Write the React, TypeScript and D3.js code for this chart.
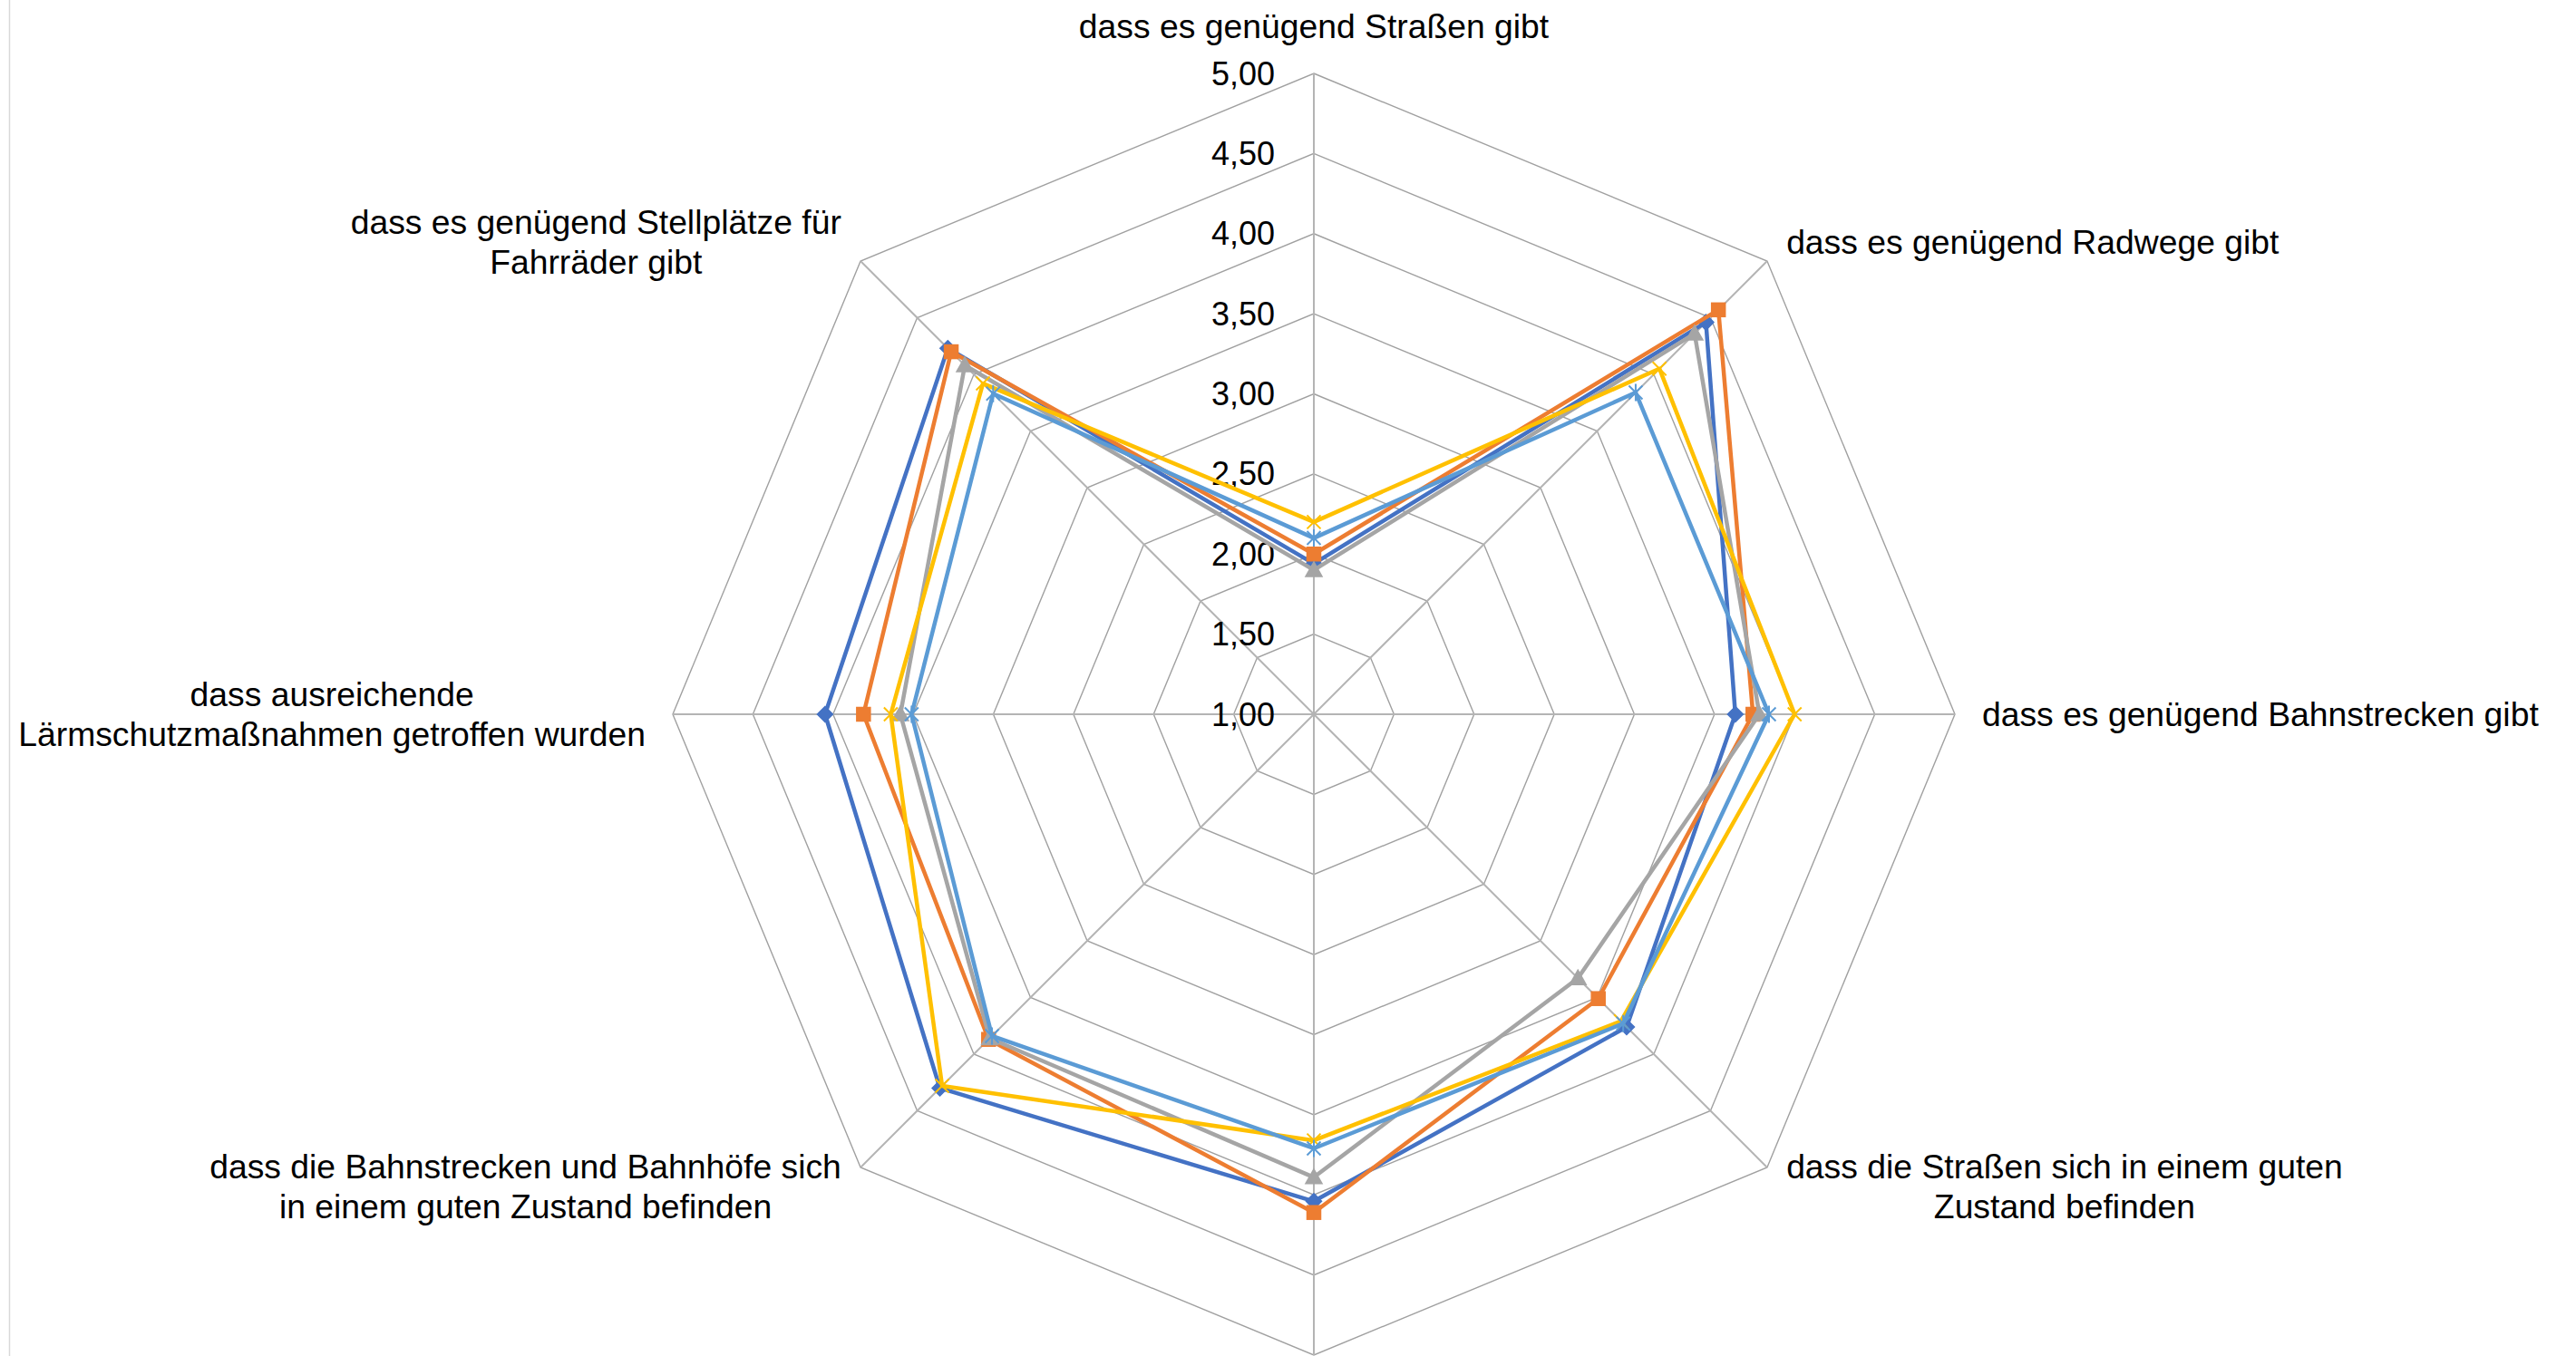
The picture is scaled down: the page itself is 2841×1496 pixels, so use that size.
import React, { useMemo } from 'react';
import * as d3 from 'd3';

// ---- data ----
const categories = [
  'dass es genügend Straßen gibt',
  'dass es genügend Radwege gibt',
  'dass es genügend Bahnstrecken gibt',
  'dass die Straßen sich in einem guten Zustand befinden',
  '',
  'dass die Bahnstrecken und Bahnhöfe sich in einem guten Zustand befinden',
  'dass ausreichende Lärmschutzmaßnahmen getroffen wurden',
  'dass es genügend Stellplätze für Fahrräder gibt',
];
const categoryLines: string[][] = [
  ['dass es genügend Straßen gibt'],
  ['dass es genügend Radwege gibt'],
  ['dass es genügend Bahnstrecken gibt'],
  ['dass die Straßen sich in einem guten', 'Zustand befinden'],
  [],
  ['dass die Bahnstrecken und Bahnhöfe sich', 'in einem guten Zustand befinden'],
  ['dass ausreichende', 'Lärmschutzmaßnahmen getroffen wurden'],
  ['dass es genügend Stellplätze für', 'Fahrräder gibt'],
];

const series1 = [1.94, 4.46, 3.63, 3.76, 4.04, 4.30, 4.05, 4.23];
const series2 = [2.00, 4.57, 3.74, 3.51, 4.11, 3.87, 3.81, 4.20];
const series3 = [1.90, 4.36, 3.78, 3.33, 3.89, 3.86, 3.58, 4.08];
const series4 = [2.20, 4.05, 4.00, 3.71, 3.66, 4.28, 3.64, 3.92];
const series5 = [2.10, 3.84, 3.84, 3.73, 3.71, 3.84, 3.51, 3.83];

const seriesColors = ['#4472C4', '#ED7D31', '#A5A5A5', '#FFC000', '#5B9BD5'];
const seriesMarkers = ['diamond', 'square', 'triangle', 'x', 'star'];

const tickValues = [1, 1.5, 2, 2.5, 3, 3.5, 4, 4.5, 5];
const tickLabels = ['1,00', '1,50', '2,00', '2,50', '3,00', '3,50', '4,00', '4,50', '5,00'];

// ---- layout ----
const W = 2841;
const H = 1496;
const CX = 1449;
const CY = 788;
const R = 707;
const FONT = '"Liberation Sans", Arial, sans-serif';
const LABEL_SIZE = 37.3;
const TICK_SIZE = 36;
const LINE_H = 43.5;

function measure(text: string, size: number): number {
  const c = document.createElement('canvas');
  const ctx = c.getContext('2d');
  if (!ctx) return text.length * size * 0.5;
  ctx.font = `${size}px "Liberation Sans", Arial, sans-serif`;
  return ctx.measureText(text).width;
}

function Marker({ type, x, y, color }: { type: string; x: number; y: number; color: string }) {
  if (type === 'diamond') {
    const s = 8.5;
    return <path d={`M${x},${y - s}L${x + s},${y}L${x},${y + s}L${x - s},${y}Z`} fill={color} stroke={color} strokeWidth={1.5} />;
  }
  if (type === 'square') {
    return <rect x={x - 7.5} y={y - 7.5} width={15} height={15} fill={color} stroke={color} strokeWidth={1.5} />;
  }
  if (type === 'triangle') {
    return <path d={`M${x},${y - 9}L${x + 9},${y + 7}L${x - 9},${y + 7}Z`} fill={color} stroke={color} strokeWidth={1.5} />;
  }
  if (type === 'x') {
    const k = 7.5;
    return <path d={`M${x - k},${y - k}L${x + k},${y + k}M${x - k},${y + k}L${x + k},${y - k}`} stroke={color} strokeWidth={2} fill="none" />;
  }
  const k = 7.5;
  return <path d={`M${x - k},${y - k}L${x + k},${y + k}M${x - k},${y + k}L${x + k},${y - k}M${x},${y - 9.5}L${x},${y + 9.5}`} stroke={color} strokeWidth={2} fill="none" />;
}

export default function App() {
  const n = categories.length;
  const rScale = d3.scaleLinear().domain([1, 5]).range([0, R]);
  const angle = (i: number) => (i * 2 * Math.PI) / n;
  const allSeries = [series1, series2, series3, series4, series5];

  const ringLine = d3
    .lineRadial<number>()
    .angle((_d, i) => angle(i))
    .radius((d) => rScale(d))
    .curve(d3.curveLinearClosed);

  const labelLayout = useMemo(() => {
    return categoryLines.map((lines, i) => {
      const a = angle(i);
      const sx = Math.sin(a);
      const cy = -Math.cos(a);
      const ax = CX + (R + 30) * sx;
      let ay = CY + (R + 30) * cy;
      const blockH = lines.length * LINE_H;
      const widths = lines.map((l) => measure(l, LABEL_SIZE));
      const bw = widths.length ? Math.max(...widths) : 0;
      let centerX = ax;
      if (sx > 0.1) centerX = ax + bw / 2;
      else if (sx < -0.1) centerX = ax - bw / 2;
      else ay = ay + (cy < 0 ? -blockH / 2 : blockH / 2);
      return { lines, centerX, centerY: ay };
    });
  }, []);

  return (
    <svg width={W} height={H} style={{ position: 'absolute', left: 0, top: 0, background: '#fff' }} fontFamily={FONT}>
      <rect x={0} y={0} width={W} height={H} fill="#fff" />
      <line x1={10.5} y1={0} x2={10.5} y2={H} stroke="#d9d9d9" strokeWidth={1.5} />
      <g transform={`translate(${CX},${CY})`}>
        {tickValues
          .filter((t) => t > 1)
          .map((t) => (
            <path key={t} d={ringLine(categories.map(() => t)) || ''} fill="none" stroke="#a0a0a0" strokeWidth={1.4} />
          ))}
        {categories.map((_c, i) => (
          <line
            key={i}
            x1={0}
            y1={0}
            x2={R * Math.sin(angle(i))}
            y2={-R * Math.cos(angle(i))}
            stroke="#b4b4b4"
            strokeWidth={2}
          />
        ))}
      </g>
      {tickValues.map((t, i) => (
        <text
          key={t}
          x={CX - 43}
          y={CY - rScale(t)}
          textAnchor="end"
          dominantBaseline="central"
          fontSize={TICK_SIZE}
          fill="#000"
        >
          {tickLabels[i]}
        </text>
      ))}
      {allSeries.map((vals, si) => (
        <g key={si}>
          <path
            transform={`translate(${CX},${CY})`}
            d={ringLine(vals) || ''}
            fill="none"
            stroke={seriesColors[si]}
            strokeWidth={4.5}
            strokeLinejoin="round"
          />
          {vals.map((v, i) => (
            <Marker
              key={i}
              type={seriesMarkers[si]}
              x={CX + rScale(v) * Math.sin(angle(i))}
              y={CY - rScale(v) * Math.cos(angle(i))}
              color={seriesColors[si]}
            />
          ))}
        </g>
      ))}
      {labelLayout.map((lab, i) =>
        lab.lines.map((line, j) => (
          <text
            key={`${i}-${j}`}
            x={lab.centerX}
            y={lab.centerY + (j - (lab.lines.length - 1) / 2) * LINE_H}
            textAnchor="middle"
            dominantBaseline="central"
            fontSize={LABEL_SIZE}
            fill="#000"
          >
            {line}
          </text>
        ))
      )}
    </svg>
  );
}
